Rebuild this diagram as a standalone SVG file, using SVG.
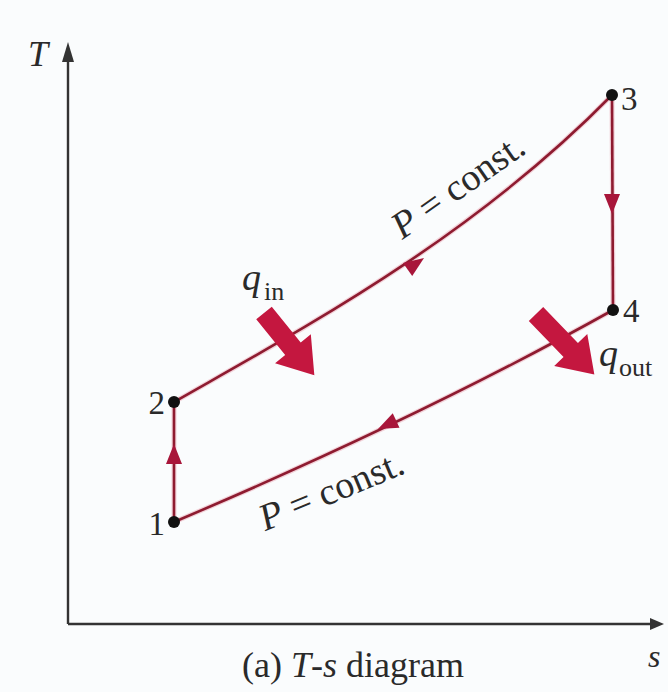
<svg xmlns="http://www.w3.org/2000/svg" width="668" height="692" viewBox="0 0 668 692">
<style>
.txt{font-family:"Liberation Serif","Times New Roman",serif;fill:#2a2a2a}
.axis{stroke:#333;stroke-width:2.4;fill:none}
.curve{stroke:#8e1b30;stroke-width:2.6;fill:none}
.halo{stroke:#e8a0ad;stroke-width:5;fill:none;opacity:0.45}
.ah{fill:#a8163a}
.big{fill:#c4173f}
.dot{fill:#111}
</style>
<rect x="0" y="0" width="668" height="692" fill="#fafcfd"/>
<g id="axes">
<line class="axis" x1="68" y1="624" x2="68" y2="58"/>
<polygon points="68,42 62,62 74,62" fill="#333"/>
<line class="axis" x1="68" y1="624" x2="652" y2="624"/>
<polygon points="664,624 650,618 650,630" fill="#333"/>
<text class="txt" font-style="italic" x="28" y="66" font-size="36">T</text>
<text class="txt" font-style="italic" x="648" y="667" font-size="32">s</text>
</g>
<g id="connectors">
<path class="halo" d="M174,402 C300,330 470,240 612,95"/>
<path class="curve" d="M174,402 C300,330 470,240 612,95"/>
<path class="halo" d="M174,522 C320,460 470,390 613,310"/>
<path class="curve" d="M174,522 C320,460 470,390 613,310"/>
<line class="halo" x1="612" y1="95" x2="613" y2="310"/>
<line class="curve" x1="612" y1="95" x2="613" y2="310"/>
<line class="halo" x1="174" y1="522" x2="174" y2="402"/>
<line class="curve" x1="174" y1="522" x2="174" y2="402"/>
<polygon class="ah" points="0,0 -20,-8 -20,8" transform="translate(424,258) rotate(-35)"/>
<polygon class="ah" points="0,0 -20,-8 -20,8" transform="translate(378,429) rotate(155)"/>
<polygon class="ah" points="0,0 -20,-8 -20,8" transform="translate(612,214) rotate(90)"/>
<polygon class="ah" points="0,0 -20,-8 -20,8" transform="translate(174,444) rotate(-90)"/>
</g>
<g id="p1"><circle class="dot" cx="174" cy="522" r="6"/><text class="txt" x="165" y="535" font-size="33" text-anchor="end">1</text></g>
<g id="p2"><circle class="dot" cx="174" cy="402" r="6"/><text class="txt" x="165" y="414" font-size="33" text-anchor="end">2</text></g>
<g id="p3"><circle class="dot" cx="612" cy="95" r="6"/><text class="txt" x="621" y="110" font-size="33">3</text></g>
<g id="p4"><circle class="dot" cx="613" cy="310" r="6"/><text class="txt" x="623" y="322" font-size="33">4</text></g>
<g id="qin">
<polygon class="big" points="0,-10 46,-10 46,-23 80,0 46,23 46,10 0,10" transform="translate(264,313) rotate(51)"/>
<text class="txt" font-style="italic" x="242" y="290" font-size="38">q</text>
<text class="txt" x="264" y="300" font-size="26">in</text>
</g>
<g id="qout">
<polygon class="big" points="0,-10 50,-10 50,-23 84,0 50,23 50,10 0,10" transform="translate(536,314) rotate(46)"/>
<text class="txt" font-style="italic" x="599" y="366" font-size="38">q</text>
<text class="txt" x="619" y="376" font-size="26">out</text>
</g>
<g id="labels">
<text class="txt" font-size="38" text-anchor="middle" transform="translate(465,196) rotate(-35)"><tspan font-style="italic">P</tspan> = const.</text>
<text class="txt" font-size="38" text-anchor="middle" transform="translate(336,502) rotate(-22.5)"><tspan font-style="italic">P</tspan> = const.</text>
<text class="txt" x="242" y="677" font-size="36">(a) <tspan font-style="italic">T</tspan>-<tspan font-style="italic">s</tspan> diagram</text>
</g>
</svg>
